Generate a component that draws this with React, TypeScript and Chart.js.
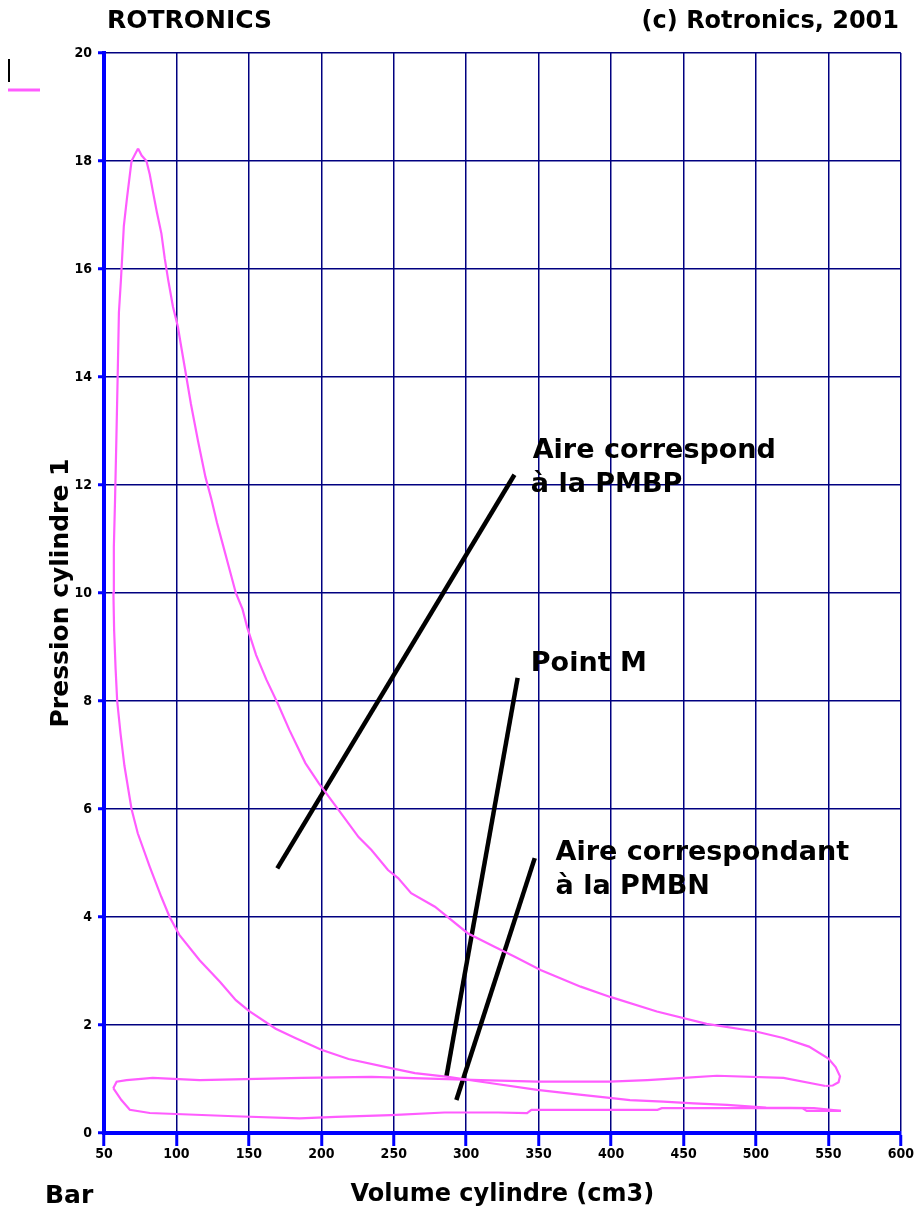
import React, { useEffect, useRef } from 'react';
import { Chart, registerables } from 'chart.js';

Chart.register(...registerables);

// ---- axis ticks ----
const xTickValues = [50, 100, 150, 200, 250, 300, 350, 400, 450, 500, 550, 600];
const yTickValues = [0, 2, 4, 6, 8, 10, 12, 14, 16, 18, 20];

// ---- pressure / volume cycle ----
const intakeVolume = [56.4, 62, 67.8, 81.6, 140, 185, 210, 248, 285, 322, 342, 345, 432, 435, 532, 535, 558.6];
const intakePressure = [0.83, 0.61, 0.43, 0.37, 0.31, 0.27, 0.3, 0.33, 0.38, 0.38, 0.37, 0.43, 0.43, 0.46, 0.46, 0.41, 0.41];

const compressionVolume = [558.6, 540, 507, 480, 457, 436, 413, 399, 375, 349, 315, 287.5, 264.6, 248, 218.8, 200, 182, 168.5, 150, 141, 130, 116, 102, 95.3, 89.6, 81.6, 73.3, 69, 64.1, 61.4, 59.1, 58, 57, 56.5, 56.8, 57.6, 58.5, 59.5, 60.3, 61.7, 63.7, 65.8, 69, 71, 73.5];
const compressionPressure = [0.41, 0.46, 0.47, 0.52, 0.55, 0.58, 0.61, 0.65, 0.72, 0.8, 0.93, 1.04, 1.11, 1.2, 1.37, 1.54, 1.76, 1.93, 2.26, 2.46, 2.8, 3.2, 3.67, 4.0, 4.37, 4.93, 5.55, 6.0, 6.8, 7.4, 8.0, 8.6, 9.3, 10.0, 10.85, 11.7, 12.8, 14.1, 15.2, 15.8, 16.8, 17.3, 18.0, 18.1, 18.23];

const expansionVolume = [73.5, 76, 79.3, 81.6, 84, 86.5, 89.6, 91.9, 94.3, 97.6, 101, 103.3, 105.6, 110, 115, 120, 124, 128, 132, 136, 141, 145.6, 149, 155, 162, 170, 178, 189, 198.2, 212, 225.7, 234.6, 246, 253, 262, 278.4, 301, 319.5, 333.2, 351.3, 379, 399.4, 431.6, 466, 500, 518.8, 536.6, 550, 555, 558, 557, 553, 548];
const expansionPressure = [18.23, 18.1, 18.0, 17.75, 17.4, 17.05, 16.66, 16.2, 15.8, 15.3, 14.93, 14.56, 14.2, 13.5, 12.8, 12.15, 11.75, 11.3, 10.9, 10.5, 10.0, 9.7, 9.35, 8.85, 8.4, 7.95, 7.46, 6.85, 6.48, 5.98, 5.48, 5.24, 4.87, 4.72, 4.44, 4.19, 3.7, 3.45, 3.27, 3.02, 2.71, 2.52, 2.25, 2.02, 1.88, 1.76, 1.6, 1.38, 1.22, 1.05, 0.94, 0.88, 0.87];

const exhaustVolume = [548, 519, 473, 450, 425, 399, 349, 310, 234.6, 186.6, 116, 83.6, 65.6, 58.7, 56.4];
const exhaustPressure = [0.87, 1.02, 1.06, 1.02, 0.98, 0.95, 0.95, 0.98, 1.04, 1.02, 0.98, 1.02, 0.98, 0.95, 0.83];

// ---- pointer lines of the annotations ----
const pointerPMBPVolume = [169.6, 333.3];
const pointerPMBPPressure = [4.9, 12.19];
const pointerMVolume = [286.3, 335.5];
const pointerMPressure = [1.04, 8.43];
const pointerPMBNVolume = [293.2, 347.3];
const pointerPMBNPressure = [0.61, 5.09];

// ---- annotation texts (anchored in data coordinates) ----
const annotationTexts = ['Aire correspond', 'à la PMBP', 'Point M', 'Aire correspondant', 'à la PMBN'];
const annotationVolume = [345.9, 344.6, 344.6, 361.7, 361.7];
const annotationPressure = [12.5, 11.87, 8.55, 5.06, 4.42];

const PINK = '#ff5cff';
const BIG_FONT = '"DejaVu Sans", "Liberation Sans", sans-serif';
const TICK_FONT = '"Liberation Sans Narrow", "DejaVu Sans Condensed", "Liberation Sans", sans-serif';

const toPoints = (xs: number[], ys: number[]) => xs.map((x, i) => ({ x, y: ys[i] }));

const decorPlugin = {
  id: 'decor',
  afterDraw(chart: any) {
    const ctx = chart.ctx as CanvasRenderingContext2D;
    const xs = chart.scales.x;
    const ys = chart.scales.y;
    ctx.save();
    ctx.fillStyle = '#000';
    ctx.textBaseline = 'alphabetic';
    // header
    ctx.font = `bold 25px ${BIG_FONT}`;
    ctx.textAlign = 'left';
    ctx.fillText('ROTRONICS', 107, 28);
    ctx.font = `bold 24px ${BIG_FONT}`;
    ctx.textAlign = 'right';
    ctx.fillText('(c) Rotronics, 2001', 899, 28);
    // unit label
    ctx.font = `bold 25px ${BIG_FONT}`;
    ctx.textAlign = 'left';
    ctx.fillText('Bar', 45, 1203);
    // annotations
    ctx.font = `bold 27px ${BIG_FONT}`;
    annotationTexts.forEach((t, i) => {
      ctx.fillText(t, xs.getPixelForValue(annotationVolume[i]), ys.getPixelForValue(annotationPressure[i]));
    });
    // legend-like marks
    ctx.strokeStyle = '#000';
    ctx.lineWidth = 2;
    ctx.beginPath();
    ctx.moveTo(9, 59);
    ctx.lineTo(9, 82);
    ctx.stroke();
    ctx.strokeStyle = PINK;
    ctx.lineWidth = 3;
    ctx.beginPath();
    ctx.moveTo(8, 90);
    ctx.lineTo(40, 90);
    ctx.stroke();
    ctx.restore();
  },
};

export default function App() {
  const ref = useRef<HTMLCanvasElement | null>(null);

  useEffect(() => {
    document.body.style.margin = '0';
    const canvas = ref.current;
    if (!canvas) return;

    const cycleStyle = {
      showLine: true,
      borderColor: PINK,
      backgroundColor: PINK,
      borderWidth: 2.2,
      pointRadius: 0,
      tension: 0,
      fill: false,
    };
    const pointerStyle = {
      showLine: true,
      borderColor: '#000',
      backgroundColor: '#000',
      borderWidth: 4.5,
      pointRadius: 0,
      tension: 0,
      fill: false,
    };

    const chart = new Chart(canvas, {
      type: 'scatter',
      data: {
        datasets: [
          { label: 'intake', data: toPoints(intakeVolume, intakePressure), ...cycleStyle },
          { label: 'compression', data: toPoints(compressionVolume, compressionPressure), ...cycleStyle },
          { label: 'expansion', data: toPoints(expansionVolume, expansionPressure), ...cycleStyle },
          { label: 'exhaust', data: toPoints(exhaustVolume, exhaustPressure), ...cycleStyle },
          { label: 'PMBP', data: toPoints(pointerPMBPVolume, pointerPMBPPressure), ...pointerStyle },
          { label: 'M', data: toPoints(pointerMVolume, pointerMPressure), ...pointerStyle },
          { label: 'PMBN', data: toPoints(pointerPMBNVolume, pointerPMBNPressure), ...pointerStyle },
        ],
      },
      options: {
        responsive: false,
        animation: false,
        events: [],
        layout: { padding: { left: 0, right: 9, top: 53, bottom: 0 } },
        plugins: {
          legend: { display: false },
          tooltip: { enabled: false },
          title: { display: false },
        },
        scales: {
          x: {
            type: 'linear',
            position: 'bottom',
            min: 50,
            max: 600,
            afterFit: (s: any) => { s.height = 78; },
            afterBuildTicks: (s: any) => { s.ticks = xTickValues.map((v) => ({ value: v })); },
            ticks: {
              color: '#000',
              padding: 0,
              font: { family: TICK_FONT, size: 14, weight: 'bold' },
              maxRotation: 0,
              autoSkip: false,
            },
            grid: {
              color: '#000080',
              lineWidth: 1.5,
              drawTicks: true,
              tickLength: 13,
              tickColor: '#0000ff',
              tickWidth: 3,
            },
            border: { display: true, color: '#0000ff', width: 4 },
            title: {
              display: true,
              text: 'Volume cylindre (cm3)',
              color: '#000',
              font: { family: BIG_FONT, size: 24, weight: 'bold', lineHeight: 1.2 },
              padding: { top: 0, bottom: 2 },
            },
          },
          y: {
            type: 'linear',
            min: 0,
            max: 20,
            afterFit: (s: any) => { s.width = 104; },
            afterBuildTicks: (s: any) => { s.ticks = yTickValues.map((v) => ({ value: v })); },
            ticks: {
              color: '#000',
              padding: 6,
              font: { family: TICK_FONT, size: 14, weight: 'bold' },
              autoSkip: false,
            },
            grid: {
              color: '#000080',
              lineWidth: 1.5,
              drawTicks: true,
              tickLength: 6,
              tickColor: '#0000ff',
              tickWidth: 3,
            },
            border: { display: true, color: '#0000ff', width: 4 },
            title: {
              display: true,
              text: 'Pression cylindre 1',
              color: '#000',
              font: { family: BIG_FONT, size: 25, weight: 'bold', lineHeight: 1.2 },
              padding: { top: 46, bottom: 0 },
            },
          },
        },
      } as any,
      plugins: [decorPlugin],
    });

    return () => {
      chart.destroy();
    };
  }, []);

  return (
    <div style={{ width: 914, height: 1211, background: '#fff' }}>
      <canvas ref={ref} width={914} height={1211} style={{ display: 'block', width: 914, height: 1211 }} />
    </div>
  );
}
